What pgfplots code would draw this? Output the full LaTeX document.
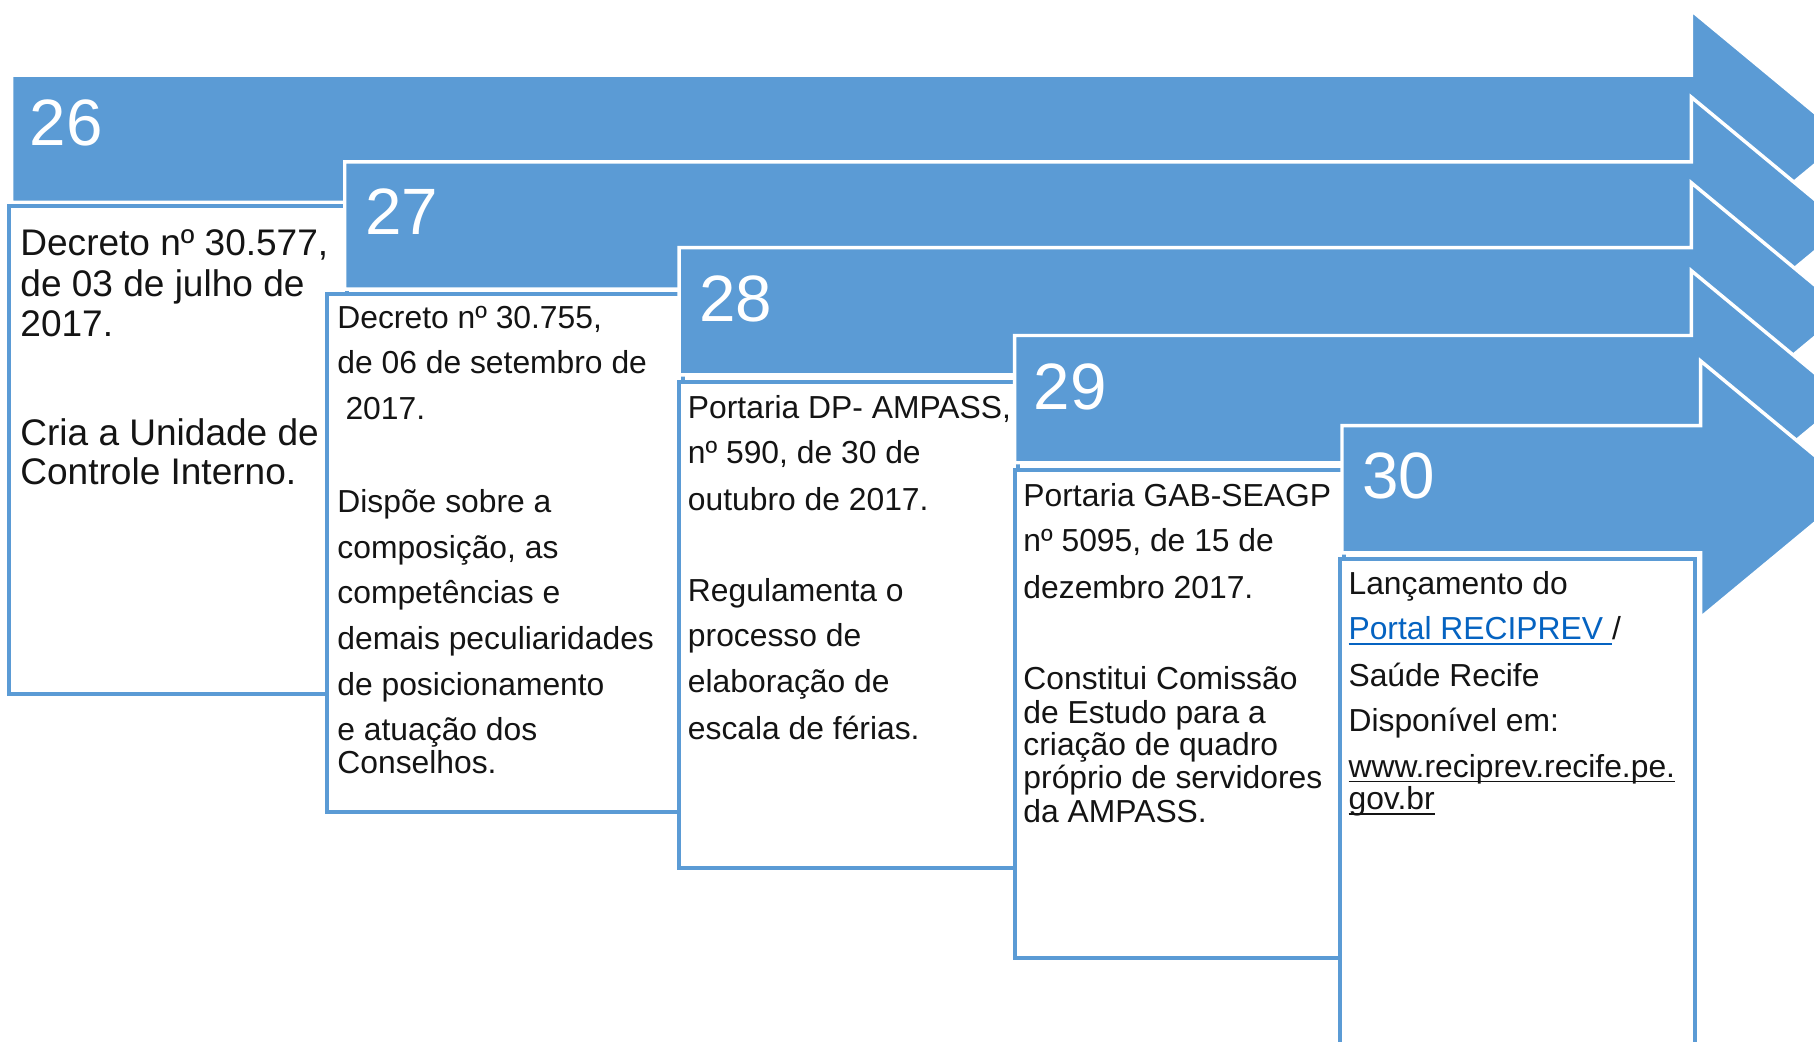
\documentclass[border=0pt]{standalone}
\usepackage{fontspec}
\setmainfont{Liberation Sans}
\usepackage{pgfplots}
\pgfplotsset{compat=1.18}

\definecolor{arrowblue}{RGB}{91,155,213}
\definecolor{linkblue}{RGB}{5,99,193}
\definecolor{txt}{RGB}{20,20,20}

% one line of box text, anchored at its baseline
\newcommand{\bl}[3]{\node[anchor=base west, inner sep=0pt, text=txt, font=#1] at (axis cs:#2) {#3};}
% underline close to the baseline, as in the original
\newcommand{\myul}[1]{\setbox0\hbox{#1}\rlap{\rule[-1.3pt]{\wd0}{0.45pt}}\box0}

\begin{document}
\begin{tikzpicture}
\begin{axis}[
  width=470.4pt, height=270pt, scale only axis,
  xmin=0, xmax=1568, ymin=0, ymax=900, y dir=reverse,
  hide axis, clip=true,
]
\coordinate (sw) at (axis cs:0,900);
\coordinate (ne) at (axis cs:1568,0);

% arrow 26 + box
\addplot[fill=arrowblue, draw=white, line width=0.9pt] coordinates {
  (10,65) (1462,65) (1462,9) (1596,120) (1462,231) (1462,175) (10,175)} -- cycle;
\addplot[fill=white, draw=arrowblue, line width=1.05pt] coordinates {
  (8,178) (300,178) (300,600) (8,600)} -- cycle;

% arrow 27 + box
\addplot[fill=arrowblue, draw=white, line width=0.9pt] coordinates {
  (298,140) (1462,140) (1462,84) (1596,195) (1462,306) (1462,250) (298,250)} -- cycle;
\addplot[fill=white, draw=arrowblue, line width=1.05pt] coordinates {
  (283,254) (590,254) (590,702) (283,702)} -- cycle;

% arrow 28 + box
\addplot[fill=arrowblue, draw=white, line width=0.9pt] coordinates {
  (587,214) (1462,214) (1462,158) (1596,269) (1462,380) (1462,324) (587,324)} -- cycle;
\addplot[fill=white, draw=arrowblue, line width=1.05pt] coordinates {
  (587,330) (880,330) (880,750) (587,750)} -- cycle;

% arrow 29 + box
\addplot[fill=arrowblue, draw=white, line width=0.9pt] coordinates {
  (877,290) (1462,290) (1462,234) (1596,345) (1462,456) (1462,400) (877,400)} -- cycle;
\addplot[fill=white, draw=arrowblue, line width=1.05pt] coordinates {
  (877,406) (1162,406) (1162,828) (877,828)} -- cycle;

% arrow 30 + box
\addplot[fill=arrowblue, draw=white, line width=0.9pt] coordinates {
  (1160,368) (1470,368) (1470,312) (1604,423) (1470,534) (1470,478) (1160,478)} -- cycle;
\addplot[fill=white, draw=arrowblue, line width=1.05pt] coordinates {
  (1158,483) (1465,483) (1465,960) (1158,960)} -- cycle;

% numbers
\node[anchor=base west, inner sep=0pt, text=white, font=\fontsize{17}{20}\selectfont] at (axis cs:25,126) {26};
\node[anchor=base west, inner sep=0pt, text=white, font=\fontsize{17}{20}\selectfont] at (axis cs:315,203) {27};
\node[anchor=base west, inner sep=0pt, text=white, font=\fontsize{17}{20}\selectfont] at (axis cs:604,278) {28};
\node[anchor=base west, inner sep=0pt, text=white, font=\fontsize{17}{20}\selectfont] at (axis cs:893,354) {29};
\node[anchor=base west, inner sep=0pt, text=white, font=\fontsize{17}{20}\selectfont] at (axis cs:1177,431) {30};

% box 26
\bl{\fontsize{9.6}{11}\selectfont}{17,221}{Decreto nº 30.577,}
\bl{\fontsize{9.6}{11}\selectfont}{17,256}{de 03 de julho de}
\bl{\fontsize{9.6}{11}\selectfont}{17,291}{2017.}
\bl{\fontsize{9.6}{11}\selectfont}{17,385}{Cria a Unidade de}
\bl{\fontsize{9.6}{11}\selectfont}{17,419}{Controle Interno.}

% box 27
\bl{\fontsize{8.25}{10}\selectfont}{291,284}{Decreto nº 30.755,}
\bl{\fontsize{8.25}{10}\selectfont}{291,323}{de 06 de setembro de}
\bl{\fontsize{8.25}{10}\selectfont}{298,363}{2017.}
\bl{\fontsize{8.25}{10}\selectfont}{291,443}{Dispõe sobre a}
\bl{\fontsize{8.25}{10}\selectfont}{291,483}{composição, as}
\bl{\fontsize{8.25}{10}\selectfont}{291,522}{competências e}
\bl{\fontsize{8.25}{10}\selectfont}{291,561}{demais peculiaridades}
\bl{\fontsize{8.25}{10}\selectfont}{291,601}{de posicionamento}
\bl{\fontsize{8.25}{10}\selectfont}{291,640}{e atuação dos}
\bl{\fontsize{8.25}{10}\selectfont}{291,669}{Conselhos.}

% box 28
\bl{\fontsize{8.25}{10}\selectfont}{594,362}{Portaria DP- AMPASS,}
\bl{\fontsize{8.25}{10}\selectfont}{594,401}{nº 590, de 30 de}
\bl{\fontsize{8.25}{10}\selectfont}{594,441}{outubro de 2017.}
\bl{\fontsize{8.25}{10}\selectfont}{594,520}{Regulamenta o}
\bl{\fontsize{8.25}{10}\selectfont}{594,559}{processo de}
\bl{\fontsize{8.25}{10}\selectfont}{594,599}{elaboração de}
\bl{\fontsize{8.25}{10}\selectfont}{594,639}{escala de férias.}

% box 29
\bl{\fontsize{8.25}{10}\selectfont}{884,438}{Portaria GAB-SEAGP}
\bl{\fontsize{8.25}{10}\selectfont}{884,477}{nº 5095, de 15 de}
\bl{\fontsize{8.25}{10}\selectfont}{884,517}{dezembro 2017.}
\bl{\fontsize{8.25}{10}\selectfont}{884,596}{Constitui Comissão}
\bl{\fontsize{8.25}{10}\selectfont}{884,625}{de Estudo para a}
\bl{\fontsize{8.25}{10}\selectfont}{884,653}{criação de quadro}
\bl{\fontsize{8.25}{10}\selectfont}{884,682}{próprio de servidores}
\bl{\fontsize{8.25}{10}\selectfont}{884,711}{da AMPASS.}

% box 30
\bl{\fontsize{8.25}{10}\selectfont}{1165,514}{Lançamento do}
\bl{\fontsize{8.25}{10}\selectfont}{1165,553}{{\color{linkblue}\myul{Portal RECIPREV\ }}/}
\bl{\fontsize{8.25}{10}\selectfont}{1165,593}{Saúde Recife}
\bl{\fontsize{8.25}{10}\selectfont}{1165,632}{Disponível em:}
\bl{\fontsize{8.25}{10}\selectfont}{1165,672}{\myul{www.reciprev.recife.pe.}}
\bl{\fontsize{8.25}{10}\selectfont}{1165,700}{\myul{gov.br}}
\end{axis}
\pgfresetboundingbox
\path[use as bounding box] (sw) rectangle (ne);
\end{tikzpicture}
\end{document}
